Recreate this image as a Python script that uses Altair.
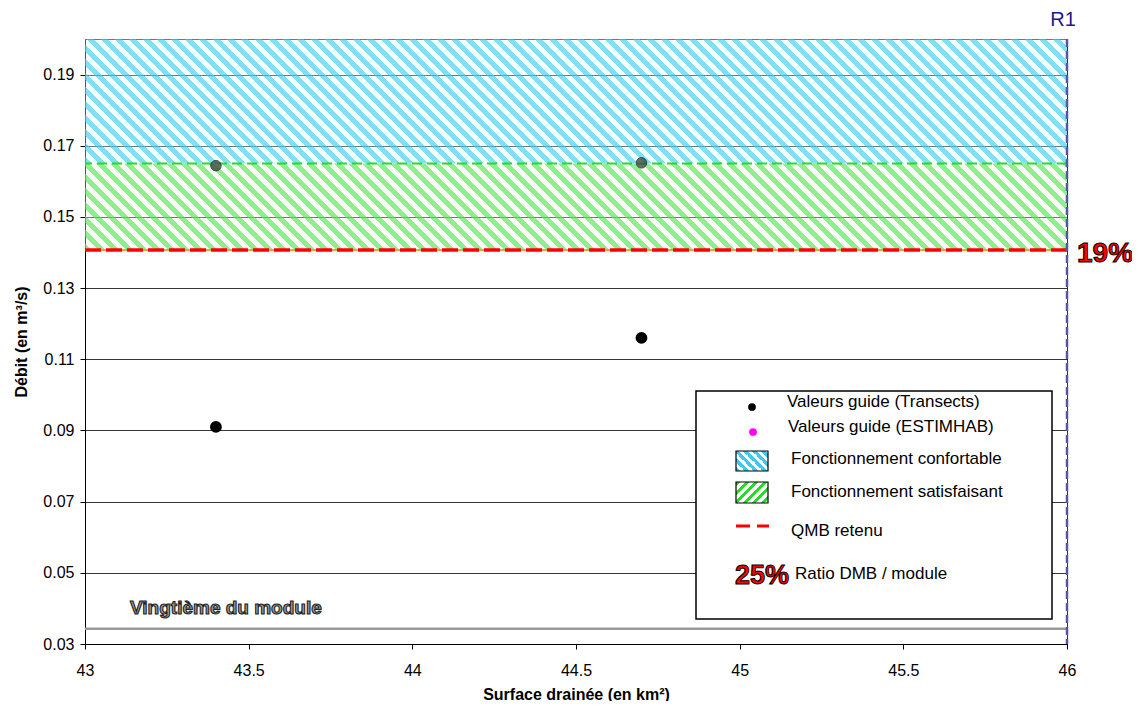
import math
import altair as alt
import pandas as pd

# ---------------- data ----------------
x_domain = [43.0, 46.0]
y_domain = [0.03, 0.20]
x_ticks = [43, 43.5, 44, 44.5, 45, 45.5, 46]
y_ticks = [0.03, 0.05, 0.07, 0.09, 0.11, 0.13, 0.15, 0.17, 0.19]

stations_x = [43.4, 44.7]
transects_q = [0.091, 0.116]
estimhab_q = [0.1644, 0.1652]

confort_low, confort_high = 0.165, 0.20
satisf_low, satisf_high = 0.1407, 0.165
qmb_retenu = 0.1407
vingtieme = 0.0343
station_x = 46.0

station_label = "R1"
ratio_label = "19%"
vingtieme_label = "Vingtième du module"

legend_labels = [
    "Valeurs guide (Transects)",
    "Valeurs guide (ESTIMHAB)",
    "Fonctionnement confortable",
    "Fonctionnement satisfaisant",
    "QMB retenu",
    "Ratio DMB / module",
]
legend_ratio = "25%"

# ---------------- layout ----------------
W, H = 982, 605
FONT = "Liberation Sans, Arial, sans-serif"


def px_h(lo, hi):
    return (hi - lo) / (y_domain[1] - y_domain[0]) * H


def hatch(w, h, period, frac, c_stripe, c_gap, back=True):
    s = w * w + h * h
    k = (w + h) / s
    a, b = k * w, k * h
    n = (w + h) / period
    stops = []
    i = 0
    while i < n:
        o0 = min(i / n, 1.0)
        o1 = min((i + frac) / n, 1.0)
        o2 = min((i + 1) / n, 1.0)
        stops += [
            {"offset": o0, "color": c_stripe},
            {"offset": o1, "color": c_stripe},
            {"offset": o1, "color": c_gap},
            {"offset": o2, "color": c_gap},
        ]
        i += 1
    if back:
        x1, y1, x2, y2 = 0, 1, a, 1 - b
    else:
        x1, y1, x2, y2 = 0, 0, a, b
    return {"gradient": "linear", "x1": x1, "y1": y1, "x2": x2, "y2": y2, "stops": stops}


BLUE_S, BLUE_G = "rgba(90,210,242,0.75)", "rgba(225,247,253,0.35)"
GREEN_S, GREEN_G = "rgba(105,232,105,0.75)", "rgba(230,250,230,0.35)"

blue_fill = hatch(W, px_h(confort_low, confort_high), 14, 0.48, BLUE_S, BLUE_G)
green_fill = hatch(W, px_h(satisf_low, satisf_high), 14, 0.48, GREEN_S, GREEN_G)

xs = alt.Scale(domain=x_domain, nice=False, zero=False)
ys = alt.Scale(domain=y_domain, nice=False, zero=False)

x_axis = alt.Axis(values=x_ticks, format="~g", title="Surface drainée (en km²)", grid=False,
                  labelFontSize=16, labelFont=FONT, labelColor="black",
                  titleFont=FONT, titleFontSize=16, titleFontWeight="bold", titleColor="black",
                  domainColor="black", tickColor="black", tickSize=5,
                  labelPadding=13, titlePadding=8, labelFlush=False)
y_axis = alt.Axis(values=y_ticks, format=".2f", title="Débit (en m³/s)", grid=True,
                  gridColor="black", gridWidth=0.8, zindex=0,
                  labelFontSize=16, labelFont=FONT, labelColor="black",
                  titleFont=FONT, titleFontSize=16, titleFontWeight="bold", titleColor="black",
                  domainColor="black", tickColor="black", tickSize=5,
                  labelPadding=6, titlePadding=13, labelFlush=False)

bands = pd.DataFrame({
    "x": [x_domain[0], x_domain[0]],
    "x2": [x_domain[1], x_domain[1]],
    "y": [confort_low, satisf_low],
    "y2": [confort_high, satisf_high],
})

base_axes = alt.Chart(bands.iloc[[0]]).mark_rect(fill=blue_fill).encode(
    x=alt.X("x:Q", scale=xs, axis=x_axis),
    x2="x2:Q",
    y=alt.Y("y:Q", scale=ys, axis=y_axis),
    y2="y2:Q",
)
green_rect = alt.Chart(bands.iloc[[1]]).mark_rect(fill=green_fill).encode(
    x=alt.X("x:Q", scale=xs), x2="x2:Q", y=alt.Y("y:Q", scale=ys), y2="y2:Q")

hl = pd.DataFrame({"v": [satisf_high]})
green_line = alt.Chart(hl).mark_rule(color="#22dd22", strokeWidth=2, strokeDash=[10, 5]).encode(
    y=alt.Y("v:Q", scale=ys))

ql = pd.DataFrame({"v": [qmb_retenu]})
orange_line = alt.Chart(ql).mark_rule(color="#f0a040", strokeWidth=2).encode(y=alt.Y("v:Q", scale=ys))
red_line = alt.Chart(ql).mark_rule(color="#ff0000", strokeWidth=3.5, strokeDash=[16, 5]).encode(
    y=alt.Y("v:Q", scale=ys))

vl = pd.DataFrame({"v": [vingtieme]})
grey_line = alt.Chart(vl).mark_rule(color="#9a9a9a", strokeWidth=2.5).encode(y=alt.Y("v:Q", scale=ys))

sl = pd.DataFrame({"x": [station_x], "lab": [station_label]})
station_line = alt.Chart(sl).mark_rule(color="#5555aa", strokeWidth=2.5, strokeDash=[8, 4]).encode(
    x=alt.X("x:Q", scale=xs))
station_text = alt.Chart(sl).mark_text(font=FONT, fontSize=20, color="#1a1a8c", align="center",
                                       baseline="alphabetic", dx=-4).encode(
    x=alt.X("x:Q", scale=xs), y=alt.value(-13), text="lab:N")

pts = pd.DataFrame({"x": stations_x, "t": transects_q, "e": estimhab_q})
transect_pts = alt.Chart(pts).mark_circle(size=140, color="black", opacity=1).encode(
    x=alt.X("x:Q", scale=xs), y=alt.Y("t:Q", scale=ys))
estim_pts = alt.Chart(pts).mark_circle(size=110, fill="#3f4d3f", opacity=0.8, stroke="#222",
                                       strokeWidth=1).encode(
    x=alt.X("x:Q", scale=xs), y=alt.Y("e:Q", scale=ys))

vt = pd.DataFrame({"v": [vingtieme], "lab": [vingtieme_label]})
vingt_text = alt.Chart(vt).mark_text(font=FONT, fontSize=19, fontWeight="bold", fill="#9a9a9a",
                                     stroke="#222", strokeWidth=1.1, align="left",
                                     baseline="bottom", dy=-11).encode(
    x=alt.value(45), y=alt.Y("v:Q", scale=ys), text="lab:N")

rt = pd.DataFrame({"v": [qmb_retenu], "lab": [ratio_label]})
ratio_text = alt.Chart(rt).mark_text(font=FONT, fontSize=28, fontWeight="bold", fill="#ff0000",
                                     stroke="black", strokeWidth=1, align="center",
                                     baseline="middle", dy=4).encode(
    x=alt.value(1020), y=alt.Y("v:Q", scale=ys), text="lab:N")

# ---------------- custom legend ----------------
one = pd.DataFrame({"a": [0]})
leg_box = alt.Chart(one).mark_rect(fill="white", stroke="black", strokeWidth=1.5).encode(
    x=alt.value(611), x2=alt.value(967), y=alt.value(352), y2=alt.value(580))
leg_dot1 = alt.Chart(one).mark_circle(size=60, color="black", opacity=1).encode(
    x=alt.value(667), y=alt.value(368))
leg_dot2 = alt.Chart(one).mark_circle(size=60, color="#ff00ff", opacity=1).encode(
    x=alt.value(668), y=alt.value(393))
leg_blue = alt.Chart(one).mark_rect(
    fill=hatch(32, 20, 9, 0.5, "#40c8f0", "white"), stroke="black", strokeWidth=1.2).encode(
    x=alt.value(651), x2=alt.value(683), y=alt.value(412), y2=alt.value(432))
leg_green = alt.Chart(one).mark_rect(
    fill=hatch(32, 21, 9, 0.5, "#22dd22", "white", back=False), stroke="black", strokeWidth=1.2).encode(
    x=alt.value(651), x2=alt.value(683), y=alt.value(443), y2=alt.value(464))
leg_red = alt.Chart(one).mark_rule(color="#ff0000", strokeWidth=3, strokeDash=[14, 7]).encode(
    x=alt.value(651), x2=alt.value(684), y=alt.value(487))
leg_ratio = alt.Chart(one).mark_text(font=FONT, fontSize=27, fontWeight="bold", fill="#ff0000",
                                     stroke="black", strokeWidth=1, align="left",
                                     baseline="middle").encode(
    x=alt.value(650), y=alt.value(537), text=alt.value(legend_ratio))

leg_pos = [(702, 363), (703, 388), (706, 420), (706, 453), (706, 492), (710, 535)]
leg_texts = [
    alt.Chart(one).mark_text(font=FONT, fontSize=17, color="black", align="left",
                             baseline="middle").encode(
        x=alt.value(px), y=alt.value(py), text=alt.value(lab))
    for (px, py), lab in zip(leg_pos, legend_labels)
]

chart = alt.layer(
    base_axes, green_rect, green_line, orange_line, red_line, grey_line,
    station_line, transect_pts, estim_pts, vingt_text, ratio_text, station_text,
    leg_box, leg_dot1, leg_dot2, leg_blue, leg_green, leg_red, leg_ratio, *leg_texts,
).properties(
    width=W, height=H,
    autosize=alt.AutoSizeParams(type="none"),
    padding={"left": 77, "top": 31, "right": 65, "bottom": 57},
    background="white",
).configure_view(stroke="#333", strokeWidth=1)

chart.save("out.html", embed_options={"renderer": "svg", "actions": False})
